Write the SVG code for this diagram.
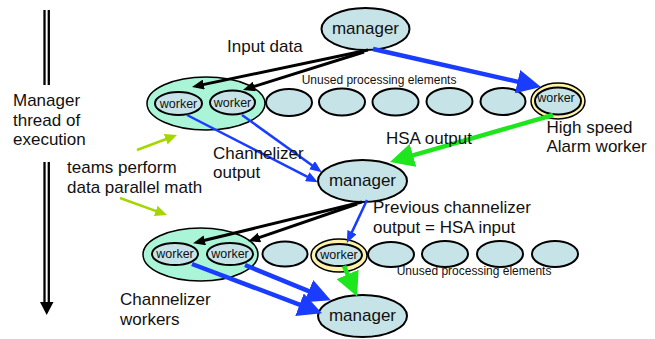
<svg xmlns="http://www.w3.org/2000/svg" width="655" height="339" viewBox="0 0 655 339">
<style>
text{font-family:"Liberation Sans",Arial,sans-serif;fill:#111}
.lbl{font-size:17px}
.sm{font-size:12px}
.wk{font-size:12.5px;text-anchor:middle}
.mg{font-size:17px;text-anchor:middle}
.pe{fill:#c6e4e8;stroke:#000;stroke-width:2}
.team{fill:#aaf5d8;stroke:#000;stroke-width:1.5}
.ring{fill:#fff3aa;stroke:#000;stroke-width:1.5}
.blk{stroke:#000;stroke-width:3;fill:none}
.bt{stroke:#1a3cff;stroke-width:2.5;fill:none}
.bT{stroke:#1a3cff;stroke-width:4.5;fill:none}
.gT{stroke:#1ee61e;stroke-width:4.5;fill:none}
.yg{stroke:#a6d600;stroke-width:2.5;fill:none}
</style>
<defs>
<marker id="hBlk" markerUnits="userSpaceOnUse" viewBox="0 0 12 10" markerWidth="12" markerHeight="10" refX="2" refY="5" orient="auto"><path d="M0,0 L12,5 L0,10 z" fill="#000"/></marker>
<marker id="hBlu" markerUnits="userSpaceOnUse" viewBox="0 0 12 10" markerWidth="12" markerHeight="10" refX="2" refY="5" orient="auto"><path d="M0,0 L12,5 L0,10 z" fill="#1a3cff"/></marker>
<marker id="hBluBig" markerUnits="userSpaceOnUse" viewBox="0 0 24 24" markerWidth="24" markerHeight="24" refX="2" refY="12" orient="auto"><path d="M0,0 L24,12 L0,24 z" fill="#1a3cff"/></marker>
<marker id="hGrn" markerUnits="userSpaceOnUse" viewBox="0 0 24 24" markerWidth="24" markerHeight="24" refX="2" refY="12" orient="auto"><path d="M0,0 L24,12 L0,24 z" fill="#1ee61e"/></marker>
<marker id="hYG" markerUnits="userSpaceOnUse" viewBox="0 0 12 11" markerWidth="12" markerHeight="11" refX="2" refY="5.5" orient="auto"><path d="M0,0 L12,5.5 L0,11 z" fill="#a6d600"/></marker>
</defs>
<rect width="655" height="339" fill="#fff"/>

<g id="thread">
<line x1="44.5" y1="10" x2="44.5" y2="85" stroke="#000" stroke-width="2.3"/>
<line x1="48.8" y1="10" x2="48.8" y2="85" stroke="#000" stroke-width="2.3"/>
<line x1="44.5" y1="162" x2="44.5" y2="303" stroke="#000" stroke-width="2.3"/>
<line x1="48.8" y1="162" x2="48.8" y2="303" stroke="#000" stroke-width="2.3"/>
<polygon points="40,302 53.5,302 46.7,315" fill="#000"/>
<text class="lbl" x="13" y="106">Manager</text>
<text class="lbl" x="13" y="125.5">thread of</text>
<text class="lbl" x="13" y="145">execution</text>
</g>

<g id="manager1"><ellipse class="pe" cx="365.5" cy="29" rx="44" ry="21"/><text class="mg" x="365.5" y="34">manager</text></g>

<g id="team1"><ellipse class="team" cx="206" cy="103.5" rx="59" ry="26.5"/></g>
<g id="worker1a"><ellipse class="pe" cx="178.5" cy="103.5" rx="23.5" ry="11.5"/><text class="wk" x="178.5" y="107.5">worker</text></g>
<g id="worker1b"><ellipse class="pe" cx="232.5" cy="102.5" rx="22.5" ry="12"/><text class="wk" x="232.5" y="106.5">worker</text></g>
<g id="pe1c"><ellipse class="pe" cx="289" cy="102.5" rx="23" ry="13.5"/></g>
<g id="pe1d"><ellipse class="pe" cx="342" cy="102" rx="23" ry="13.5"/></g>
<g id="pe1e"><ellipse class="pe" cx="395.5" cy="102" rx="23" ry="13.5"/></g>
<g id="pe1f"><ellipse class="pe" cx="449.5" cy="101.5" rx="23" ry="13.5"/></g>
<g id="pe1g"><ellipse class="pe" cx="503" cy="101.5" rx="22.5" ry="13.5"/></g>
<g id="hsa1"><ellipse class="ring" cx="558" cy="101" rx="27" ry="18"/><ellipse class="pe" cx="558" cy="101" rx="23" ry="13.5" stroke-width="2.5"/><text class="wk" x="556" y="102">worker</text></g>

<g id="manager2"><ellipse class="pe" cx="362.5" cy="181" rx="44.5" ry="21"/><text class="mg" x="362.5" y="186">manager</text></g>

<g id="team2"><ellipse class="team" cx="200.5" cy="254.5" rx="57.5" ry="26.5"/></g>
<g id="worker2a"><ellipse class="pe" cx="175" cy="254" rx="23" ry="11"/><text class="wk" x="175" y="258">worker</text></g>
<g id="worker2b"><ellipse class="pe" cx="230" cy="254" rx="23" ry="11"/><text class="wk" x="230" y="258">worker</text></g>
<g id="pe2c"><ellipse class="pe" cx="285" cy="254" rx="22.5" ry="12.5"/></g>
<g id="hsa2"><ellipse class="ring" cx="339" cy="255.5" rx="28" ry="16.5"/><ellipse class="pe" cx="339" cy="255" rx="23" ry="11" stroke-width="2.5"/><text class="wk" x="339" y="259">worker</text></g>
<g id="pe2e"><ellipse class="pe" cx="391" cy="254.5" rx="23" ry="12.5"/></g>
<g id="pe2f"><ellipse class="pe" cx="445" cy="254" rx="23" ry="13"/></g>
<g id="pe2g"><ellipse class="pe" cx="500" cy="254" rx="23" ry="13"/></g>
<g id="pe2h"><ellipse class="pe" cx="555" cy="254" rx="23" ry="13"/></g>

<g id="manager3"><ellipse class="pe" cx="362.5" cy="316" rx="44.5" ry="21"/><text class="mg" x="362.5" y="321">manager</text></g>

<g id="connectors">
<line class="blk" x1="368" y1="50" x2="201.8" y2="84.9" marker-end="url(#hBlk)"/>
<line class="blk" x1="364" y1="52" x2="252.5" y2="87" marker-end="url(#hBlk)"/>
<line class="bT" x1="373" y1="49" x2="519.5" y2="82.1" marker-end="url(#hBluBig)"/>
<line class="gT" x1="553" y1="115" x2="411.1" y2="155.9" marker-end="url(#hGrn)"/>
<line class="bt" x1="187" y1="115" x2="309" y2="177.6" marker-end="url(#hBlu)"/>
<line class="bt" x1="242" y1="115" x2="313.7" y2="166.4" marker-end="url(#hBlu)"/>
<line class="blk" x1="362" y1="202" x2="202.8" y2="240.8" marker-end="url(#hBlk)"/>
<line class="blk" x1="357" y1="204" x2="257.6" y2="238.1" marker-end="url(#hBlk)"/>
<line class="bt" x1="367" y1="200" x2="351.1" y2="233.9" marker-end="url(#hBlu)"/>
<line class="gT" x1="344" y1="266" x2="348.4" y2="276.2" marker-end="url(#hGrn)"/>
<line class="bT" x1="192" y1="264" x2="301.4" y2="305.4" marker-end="url(#hBluBig)"/>
<line class="bT" x1="245" y1="265" x2="310.5" y2="291.9" marker-end="url(#hBluBig)"/>
<line class="yg" x1="137" y1="150" x2="167.6" y2="138.5" marker-end="url(#hYG)"/>
<line class="yg" x1="120" y1="198" x2="157.6" y2="211.6" marker-end="url(#hYG)"/>
</g>

<g id="labels">
<text class="lbl" x="227" y="52">Input data</text>
<text class="sm" x="301.7" y="83.5">Unused processing elements</text>
<text class="lbl" x="546.5" y="133">High speed</text>
<text class="lbl" x="546.5" y="152">Alarm worker</text>
<text class="lbl" x="386" y="144">HSA output</text>
<text class="lbl" x="213" y="159">Channelizer</text>
<text class="lbl" x="213" y="178">output</text>
<text class="lbl" x="67" y="173">teams perform</text>
<text class="lbl" x="67" y="193">data parallel math</text>
<text class="lbl" x="373" y="213">Previous channelizer</text>
<text class="lbl" x="373" y="233">output = HSA input</text>
<text class="sm" x="396.7" y="275">Unused processing elements</text>
<text class="lbl" x="120" y="305">Channelizer</text>
<text class="lbl" x="120" y="325">workers</text>
</g>
</svg>
